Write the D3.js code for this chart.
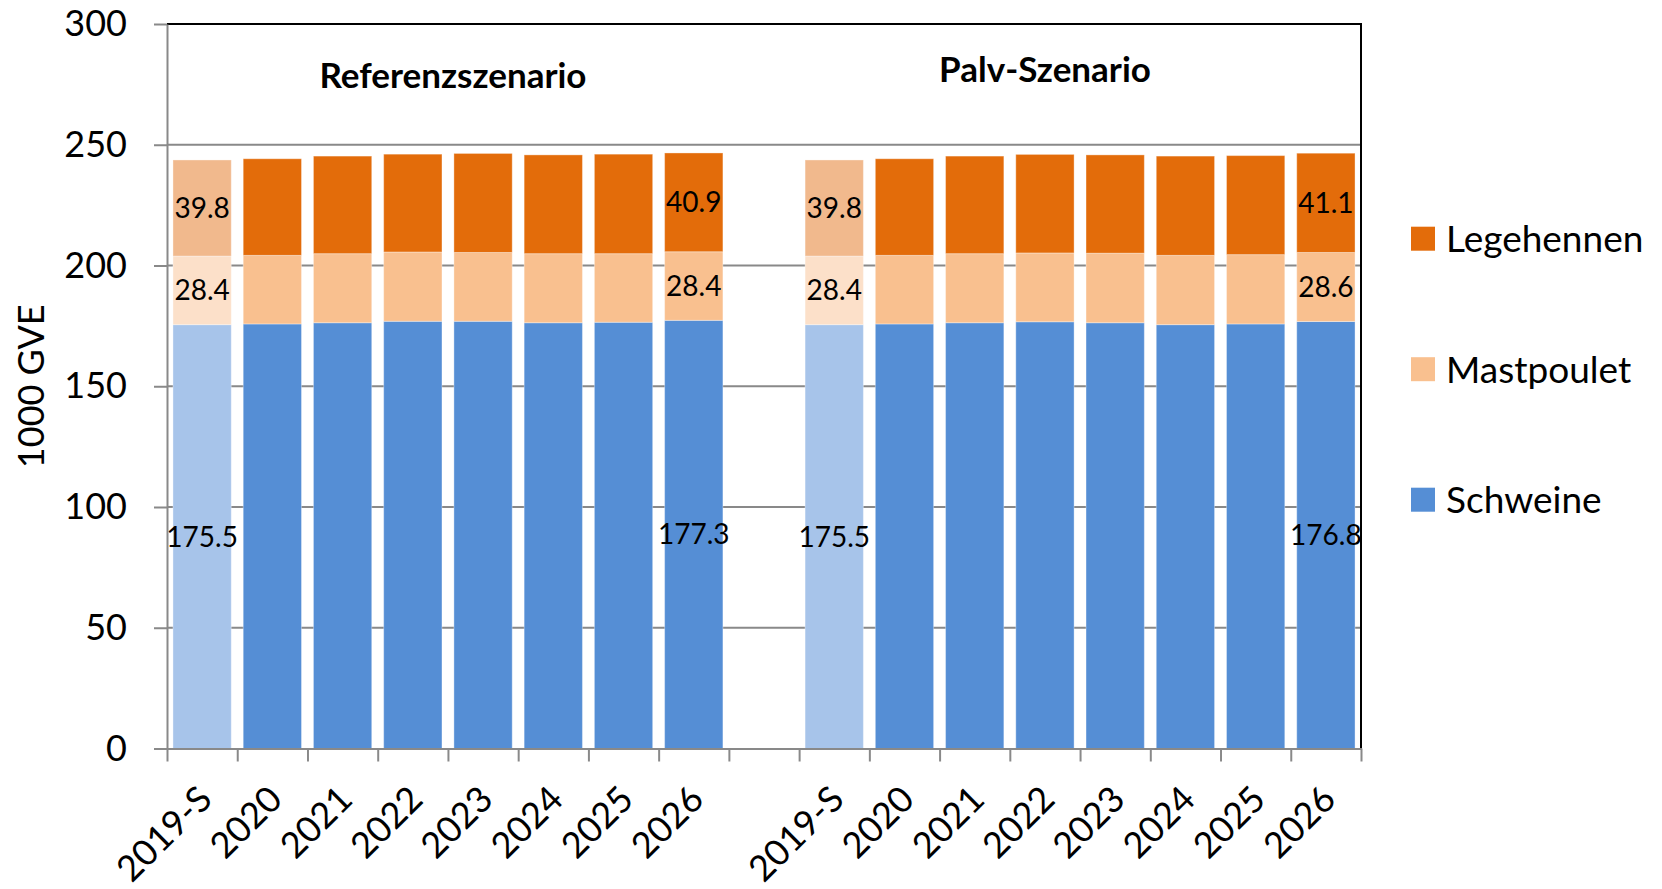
<!DOCTYPE html>
<html>
<head>
<meta charset="utf-8">
<script src="https://cdn.jsdelivr.net/npm/d3@7"></script>
<style>
  html, body { margin: 0; padding: 0; background: #fff; }
  svg { display: block; font-family: Lato, "Open Sans", sans-serif; }
</style>
</head>
<body>
<div id="chart"></div>
<script>
// chart values
const years = ["2019-S", "2020", "2021", "2022", "2023", "2024", "2025", "2026"]
const scenarios = ["Referenzszenario", "Palv-Szenario"]
const seriesNames = ["Schweine", "Mastpoulet", "Legehennen"]

const refSchweine   = [175.5, 175.8, 176.3, 176.9, 176.9, 176.3, 176.5, 177.3]
const refMastpoulet = [28.4, 28.4, 28.6, 28.7, 28.5, 28.6, 28.4, 28.4]
const refLegehennen = [39.8, 40.0, 40.4, 40.5, 41.0, 40.9, 41.2, 40.9]

const palvSchweine   = [175.5, 175.8, 176.3, 176.7, 176.3, 175.5, 175.8, 176.8]
const palvMastpoulet = [28.4, 28.4, 28.6, 28.5, 28.8, 28.7, 28.7, 28.6]
const palvLegehennen = [39.8, 40.0, 40.4, 40.8, 40.7, 41.1, 41.0, 41.1]

const yTicks = [0, 50, 100, 150, 200, 250, 300]
const labelledYears = ["2019-S", "2026"]
const baseYear = "2019-S"
const yTitle = "1000 GVE"

const colors = {
    Schweine:   { dark: "#558ed5", light: "#a7c4ea" },
    Mastpoulet: { dark: "#f9c08f", light: "#fce0c9" },
    Legehennen: { dark: "#e36c0a", light: "#f1b98d" }
}

drawChart()

function drawChart() {
    const canvasWidth = 1662
    const canvasHeight = 889
    const plot = { left: 167, right: 1361, top: 24, bottom: 748.5 }

    // build rows, with an empty slot between the two scenarios
    const seriesByScenario = [
        [refSchweine, refMastpoulet, refLegehennen],
        [palvSchweine, palvMastpoulet, palvLegehennen]
    ]
    const rows = []
    const slots = []
    scenarios.forEach((sc, si) => {
        if (si > 0) slots.push("gap" + si)
        years.forEach((yr, i) => {
            const key = sc + "|" + yr
            slots.push(key)
            rows.push({
                key: key, scenario: sc, year: yr,
                Schweine: seriesByScenario[si][0][i],
                Mastpoulet: seriesByScenario[si][1][i],
                Legehennen: seriesByScenario[si][2][i]
            })
        })
    })

    const svg = d3.select("#chart")
        .append("svg")
        .attr("width", canvasWidth)
        .attr("height", canvasHeight)

    // scales
    const x = d3.scaleBand()
        .domain(slots)
        .range([plot.left, plot.right])
        .paddingInner(0.17)
        .paddingOuter(0.085)
    const slotScale = d3.scaleLinear()
        .domain([0, slots.length])
        .range([plot.left, plot.right])
    const y = d3.scaleLinear()
        .domain([0, 300])
        .range([plot.bottom, plot.top])

    // gridlines
    svg.append("g")
        .selectAll("line")
        .data(yTicks.filter(t => t > 0 && t < 300))
        .enter()
        .append("line")
            .attr("x1", plot.left)
            .attr("x2", plot.right)
            .attr("y1", d => y(d))
            .attr("y2", d => y(d))
            .attr("stroke", "#898989")
            .attr("stroke-width", 2)

    // stacked bars
    const stack = d3.stack().keys(seriesNames)
    const layers = stack(rows)
    svg.append("g")
        .selectAll("g")
        .data(layers)
        .enter()
        .append("g")
        .selectAll("rect")
        .data(layer => layer.map(d => ({ s: layer.key, d: d })))
        .enter()
        .append("rect")
            .attr("x", e => x(e.d.data.key))
            .attr("width", x.bandwidth())
            .attr("y", e => y(e.d[1]))
            .attr("height", e => y(e.d[0]) - y(e.d[1]))
            .attr("fill", e => e.d.data.year === baseYear ? colors[e.s].light : colors[e.s].dark)
            .attr("stroke", "rgba(255,255,255,0.35)")
            .attr("stroke-width", 1)

    // data labels
    const labelData = []
    layers.forEach(layer => {
        layer.forEach(d => {
            if (labelledYears.includes(d.data.year)) labelData.push({ s: layer.key, d: d })
        })
    })
    svg.append("g")
        .selectAll("text")
        .data(labelData)
        .enter()
        .append("text")
            .attr("x", e => x(e.d.data.key) + x.bandwidth() / 2)
            .attr("y", e => y((e.d[0] + e.d[1]) / 2))
            .attr("dy", "0.36em")
            .attr("text-anchor", "middle")
            .attr("font-size", 28)
            .attr("fill", "#000")
            .text(e => (e.d[1] - e.d[0]).toFixed(1))

    // plot border (top and right)
    svg.append("path")
        .attr("d", `M${plot.left},${plot.top}H${plot.right}V${plot.bottom}`)
        .attr("fill", "none")
        .attr("stroke", "#000")
        .attr("stroke-width", 2)

    // y axis
    const yAxis = svg.append("g")
        .attr("transform", "translate(" + plot.left + ",0)")
        .call(d3.axisLeft(y).tickValues(yTicks).tickSize(13).tickSizeOuter(0).tickPadding(27))
    yAxis.selectAll("text").attr("font-size", 36).attr("fill", "#000").attr("font-family", "Lato")
    yAxis.selectAll("line").attr("stroke", "#898989").attr("stroke-width", 2)
    yAxis.select(".domain").attr("stroke", "#898989").attr("stroke-width", 2)

    // x axis (ticks between slots)
    const xAxis = svg.append("g")
        .attr("transform", "translate(0," + plot.bottom + ")")
        .call(d3.axisBottom(slotScale).tickValues(d3.range(slots.length + 1)).tickSize(13).tickSizeOuter(0).tickFormat(""))
    xAxis.selectAll("line").attr("stroke", "#898989").attr("stroke-width", 2)
    xAxis.select(".domain").attr("stroke", "#898989").attr("stroke-width", 2)

    // rotated category labels
    svg.append("g")
        .selectAll("text")
        .data(rows)
        .enter()
        .append("text")
            .attr("transform", d => "translate(" + (x(d.key) + x.bandwidth() / 2 + 3) + "," + (plot.bottom + 44) + ") rotate(-45)")
            .attr("dy", "0.35em")
            .attr("text-anchor", "end")
            .attr("font-size", 36)
            .attr("fill", "#000")
            .text(d => d.year)

    // y axis title
    svg.append("text")
        .attr("transform", "translate(31," + ((plot.top + plot.bottom) / 2) + ") rotate(-90)")
        .attr("dy", "0.35em")
        .attr("text-anchor", "middle")
        .attr("font-size", 36)
        .attr("fill", "#000")
        .text(yTitle)

    // scenario titles
    const titlePos = [{ cx: 453, base: 88 }, { cx: 1045, base: 82 }]
    svg.append("g")
        .selectAll("text")
        .data(scenarios)
        .enter()
        .append("text")
            .attr("x", (d, i) => titlePos[i].cx)
            .attr("y", (d, i) => titlePos[i].base)
            .attr("text-anchor", "middle")
            .attr("font-size", 35)
            .attr("font-weight", "bold")
            .attr("fill", "#000")
            .text(d => d)

    // legend (top to bottom: reverse stack order)
    const legendItems = seriesNames.slice().reverse()
    const legend = svg.append("g")
        .selectAll("g")
        .data(legendItems)
        .enter()
        .append("g")
            .attr("transform", (d, i) => "translate(1411," + (238.7 + i * 130.5) + ")")
    legend.append("rect")
        .attr("x", 0)
        .attr("y", -12)
        .attr("width", 24)
        .attr("height", 24)
        .attr("fill", d => colors[d].dark)
    legend.append("text")
        .attr("x", 35)
        .attr("dy", "0.36em")
        .attr("font-size", 37)
        .attr("fill", "#000")
        .text(d => d)
}
</script>
</body>
</html>
